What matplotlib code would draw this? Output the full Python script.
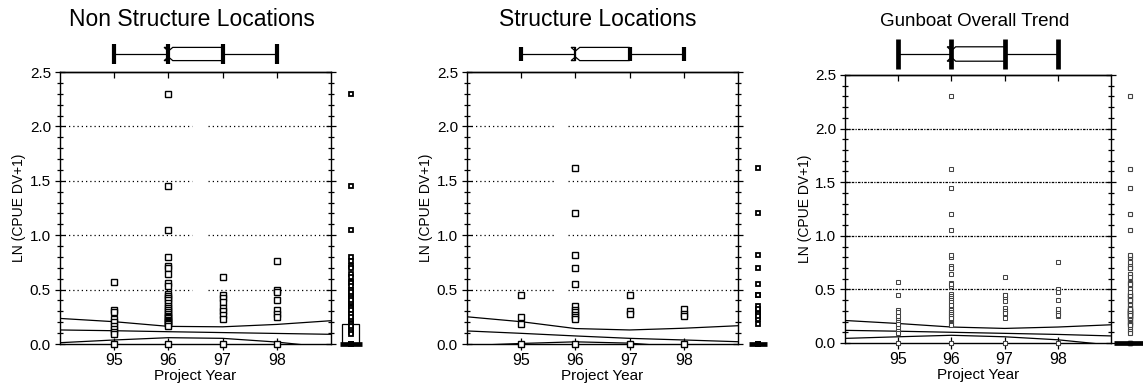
import matplotlib
matplotlib.use("Agg")
import matplotlib.pyplot as plt
from matplotlib.patches import Polygon, Rectangle
from matplotlib.ticker import MultipleLocator, FormatStrFormatter

plt.rcParams['font.family'] = ['Liberation Sans', 'DejaVu Sans']

# ---------------------------------------------------------------- data
years = [95, 96, 97, 98]

# LN(CPUE DV+1) per project year, non structure locations
nonstruct_95 = [0.57, 0.31, 0.29, 0.23, 0.20, 0.17, 0.14, 0.11, 0.09, 0.0]
nonstruct_96 = [2.30, 1.45, 1.05, 0.80, 0.72, 0.70, 0.64, 0.56, 0.53, 0.46,
                0.44, 0.42, 0.40, 0.38, 0.35, 0.33, 0.31, 0.29, 0.28, 0.26,
                0.25, 0.24, 0.22, 0.21, 0.20, 0.19, 0.18, 0.17, 0.0]
nonstruct_97 = [0.62, 0.45, 0.42, 0.39, 0.33, 0.30, 0.27, 0.23, 0.0]
nonstruct_98 = [0.76, 0.50, 0.48, 0.40, 0.31, 0.28, 0.25, 0.0]

# LN(CPUE DV+1) per project year, structure locations
struct_95 = [0.45, 0.25, 0.18, 0.0]
struct_96 = [1.62, 1.20, 0.82, 0.70, 0.55, 0.35, 0.31, 0.29, 0.27, 0.25,
             0.23, 0.0]
struct_97 = [0.45, 0.30, 0.28, 0.0]
struct_98 = [0.32, 0.28, 0.26, 0.0]

# linear trend with confidence band, sampled along the year axis
fit_x = [94, 95, 96, 97, 98, 99]
nonstruct_fit_upper = [0.235, 0.205, 0.162, 0.158, 0.180, 0.214]
nonstruct_fit_mid = [0.129, 0.122, 0.113, 0.105, 0.097, 0.089]
nonstruct_fit_lower = [0.012, 0.037, 0.058, 0.052, 0.018, -0.035]
struct_fit_upper = [0.250, 0.205, 0.142, 0.129, 0.145, 0.168]
struct_fit_mid = [0.120, 0.098, 0.074, 0.052, 0.037, 0.021]
struct_fit_lower = [-0.015, 0.005, 0.020, 0.008, -0.030, -0.080]
overall_fit_upper = [0.210, 0.182, 0.149, 0.136, 0.149, 0.170]
overall_fit_mid = [0.118, 0.110, 0.100, 0.090, 0.080, 0.066]
overall_fit_lower = [0.043, 0.058, 0.072, 0.058, 0.030, -0.020]

# distribution of project year: whisker low, Q1, median, Q3, whisker high
year_box = [95, 96, 96, 97, 98]
year_notch = [95.92, 96.08]

# quantile box of the pooled non structure values
nonstruct_margin_box = [0.0, 0.18]

titles = ["Non Structure Locations", "Structure Locations", "Gunboat Overall Trend"]
grid_levels = [0.5, 1.0, 1.5, 2.0]

# ---------------------------------------------------------------- layout
W, H = 1143, 386
fig = plt.figure(figsize=(W / 100, H / 100), dpi=100)


def px_axes(left, top, right, bottom):
    return fig.add_axes([left / W, 1 - bottom / H, (right - left) / W,
                         (bottom - top) / H])


panels = [
    dict(main=(60, 72, 331, 344), boxax=(60, 34, 331, 74),
         groups=[nonstruct_95, nonstruct_96, nonstruct_97, nonstruct_98],
         fit=(nonstruct_fit_upper, nonstruct_fit_mid, nonstruct_fit_lower),
         gap=(96.43, 96.73), grid_dash=(0, (1, 2.4)),
         box_half=0.165, bar_half=0.26, q1_bar=True,
         mk=3.7, mew=1.0, mec='black', mmk=2.4, mmew=1.3,
         zero_bar=(99.16, 99.58), margin_box=nonstruct_margin_box,
         title_size=16.5, bar_lw=3.0, title_dx=-4),
    dict(main=(467, 72, 738, 344), boxax=(467, 34, 738, 74),
         groups=[struct_95, struct_96, struct_97, struct_98],
         fit=(struct_fit_upper, struct_fit_mid, struct_fit_lower),
         gap=(95.64, 95.86), grid_dash=(0, (1, 2.4)),
         box_half=0.165, bar_half=0.175, q1_bar=False,
         mk=3.7, mew=1.0, mec='black', mmk=2.4, mmew=1.3,
         zero_bar=(99.20, 99.54), margin_box=None,
         title_size=16.5, bar_lw=3.0, title_dx=-5),
    dict(main=(845, 75, 1111, 343), boxax=(845, 34, 1111, 74),
         groups=[nonstruct_95 + struct_95, nonstruct_96 + struct_96,
                 nonstruct_97 + struct_97, nonstruct_98 + struct_98],
         fit=(overall_fit_upper, overall_fit_mid, overall_fit_lower),
         gap=None, grid_dash=(0, (2, 1, 1, 1)),
         box_half=0.18, bar_half=0.375, q1_bar=True,
         mk=3.0, mew=0.75, mec='#444444', mmk=2.2, mmew=0.8,
         zero_bar=(99.05, 99.62), margin_box=None,
         title_size=13.5, bar_lw=3.4, title_dx=-3),
]

margin_x = 99.36

for i, p in enumerate(panels):
    ax = px_axes(*p['main'])
    axb = px_axes(*p['boxax'])

    # ---- main scatter axes
    ax.set_xlim(94, 99)
    ax.set_ylim(0, 2.5)
    for s in ax.spines.values():
        s.set_linewidth(1.0)
        s.set_color('black')

    # dotted reference lines
    for g in grid_levels:
        if p['gap'] is None:
            ax.hlines(g, 94, 99, colors='black', lw=0.9,
                      linestyles=[p['grid_dash']], zorder=1)
        else:
            ax.hlines(g, 94, p['gap'][0], colors='black', lw=0.9,
                      linestyles=[p['grid_dash']], zorder=1)
            ax.hlines(g, p['gap'][1], 99, colors='black', lw=0.9,
                      linestyles=[p['grid_dash']], zorder=1)

    # trend line and confidence band
    for curve in p['fit']:
        ax.plot(fit_x, curve, color='black', lw=0.9, zorder=2)

    # observations per year
    pooled = []
    for yr, vals in zip(years, p['groups']):
        ax.plot([yr] * len(vals), vals, 's', ms=p['mk'], mew=p['mew'],
                mfc='white', mec=p['mec'], clip_on=False, zorder=3)
        pooled.extend(vals)

    # marginal distribution of all values
    ax.plot([margin_x] * len(pooled), pooled, 's', ms=p['mmk'], mew=p['mmew'],
            mfc='white', mec=p['mec'], clip_on=False, zorder=3)
    ax.hlines(0, p['zero_bar'][0], p['zero_bar'][1], colors='black', lw=3.4,
              clip_on=False, zorder=4)
    if p['margin_box'] is not None:
        lo, hi = p['margin_box']
        ax.add_patch(Rectangle((margin_x - 0.15, lo), 0.30, hi - lo,
                               fill=False, ec='black', lw=0.9,
                               clip_on=False, zorder=3))

    # ticks
    ax.yaxis.set_major_locator(MultipleLocator(0.5))
    ax.yaxis.set_minor_locator(MultipleLocator(0.1))
    ax.yaxis.set_major_formatter(FormatStrFormatter('%.1f'))
    ax.tick_params(axis='y', which='both', direction='inout', left=True,
                   right=True, width=0.9, labelsize=11, pad=3)
    ax.tick_params(axis='y', which='major', length=7)
    ax.tick_params(axis='y', which='minor', length=4.5)
    ax.set_xticks(years)
    ax.set_xticklabels([str(y) for y in years])
    ax.tick_params(axis='x', which='major', direction='inout', length=9,
                   width=0.9, labelsize=11.5, pad=2, top=False)
    top = ax.secondary_xaxis('top')
    top.set_xticks(years)
    top.set_xticklabels([])
    top.tick_params(direction='in', length=4, width=0.9)
    top.spines['top'].set_linewidth(1.0)

    ax.set_xlabel("Project Year", fontsize=11, labelpad=1)
    ax.set_ylabel("LN (CPUE DV+1)", fontsize=10)
    ax.yaxis.set_label_coords(-0.125, 0.5)

    # ---- project-year box plot above the axes
    axb.set_xlim(94, 99)
    axb.set_ylim(0, 1)
    axb.axis('off')
    wlo, q1, med, q3, whi = year_box
    nlo, nhi = year_notch
    yc = 0.5
    bh = p['box_half']
    ind = bh * 0.55
    axb.hlines(yc, wlo, q1, colors='black', lw=0.9)
    axb.hlines(yc, q3, whi, colors='black', lw=0.9)
    notch_box = [(q1, yc - bh), (nlo, yc - bh), (med, yc - bh + ind),
                 (nhi, yc - bh), (q3, yc - bh), (q3, yc + bh),
                 (nhi, yc + bh), (med, yc + bh - ind), (nlo, yc + bh),
                 (q1, yc + bh)]
    axb.add_patch(Polygon(notch_box, closed=True, fill=False, ec='black',
                          lw=0.9))
    bar_pos = [wlo, q3, whi] + ([q1] if p['q1_bar'] else [])
    axb.vlines(bar_pos, yc - p['bar_half'], yc + p['bar_half'],
               colors='black', lw=p['bar_lw'])
    if not p['q1_bar']:
        axb.vlines([q1], yc - bh, yc + bh, colors='black', lw=1.6)

    # ---- title
    l, t, r, b = p['main']
    fig.text(((l + r) / 2 + p['title_dx']) / W, 1 - 26 / H, titles[i],
             ha='center', va='baseline', fontsize=p['title_size'])

fig.savefig("out.png", dpi=100)
